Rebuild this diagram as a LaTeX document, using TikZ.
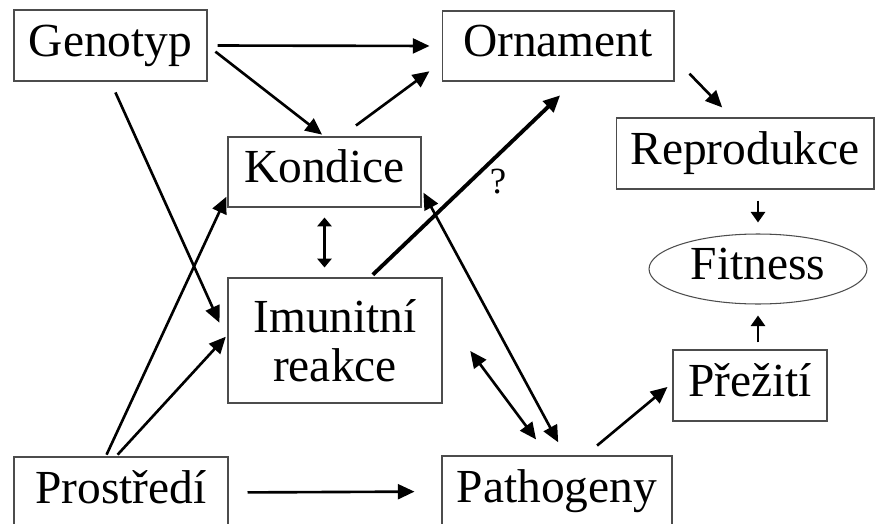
\documentclass[tikz,border=0pt]{standalone}
\usepackage{fontspec}
\setmainfont{Liberation Serif}
\usetikzlibrary{arrows.meta,shapes.geometric}
\begin{document}
\begin{tikzpicture}[x=0.02cm, y=-0.02cm,
  >={Triangle[length=9.5pt,width=8.5pt]},
  box/.style={draw=black!70, line width=0.6pt, inner sep=0pt, font=\fontsize{27}{30}\selectfont, text height=19pt, text depth=7pt},
  arr/.style={->, line width=1.5pt},
  darr/.style={<->, line width=1.5pt},
  sarr/.style={-{Triangle[length=6pt,width=8pt]}, line width=1.5pt}]
\useasboundingbox (0,0) rectangle (876,524);

\node[box, minimum width=3.86cm, minimum height=1.42cm] (geno) at (110.5,45.5) {Genotyp};
\node[box, minimum width=4.64cm, minimum height=1.40cm] (orna) at (558,46) {Ornament};
\node[box, minimum width=3.86cm, minimum height=1.40cm] (kond) at (324.5,172) {Kondice};
\node[box, minimum width=5.16cm, minimum height=1.42cm] (repro) at (745,153.5) {Reprodukce};
\node[box, ellipse, minimum width=4.36cm, minimum height=1.40cm] (fit) at (758,269) {Fitness};
\node[box, align=center, text height=, text depth=, minimum width=4.28cm, minimum height=2.5cm] (imun) at (335,340.5) {Imunitní\\[-2pt]reakce};
\node[box, minimum width=4.28cm, minimum height=1.42cm] (pros) at (121,492.5) {Prostředí};
\node[box, minimum width=4.60cm, minimum height=1.42cm] (path) at (557,491.5) {Pathogeny};
\node[box, minimum width=3.08cm, minimum height=1.42cm] (prez) at (750,385.5) {Přežití};

\draw[arr, shorten <=0.2cm, shorten >=0.24cm] (geno.east) -- (orna.west);
\draw[arr, shorten <=0.2cm, shorten >=0.06cm] (geno.east) -- (kond.north);
\draw[arr, shorten <=0.24cm, shorten >=0.39cm] (geno.south) -- (imun.west);
\draw[arr, shorten <=0.37cm, shorten >=0.3cm] (kond.65) -- (orna.188);

\draw[arr, shorten <=0.04cm, shorten >=0.05cm] (pros.113) -- (kond.193);
\draw[arr, shorten <=0.05cm, shorten >=0.05cm] (pros.98) -- (imun.177);
\draw[arr, shorten <=0.38cm, shorten >=0.54cm] (pros.east) -- (path.west);

\draw[{Triangle[length=5pt,width=8pt]}-{Triangle[length=5pt,width=8pt]}, line width=1.5pt, shorten <=0.2cm, shorten >=0.2cm] (kond.south) -- (kond.south |- imun.north);
\draw[->, line width=2.2pt, shorten <=0.08cm, shorten >=0.4cm] (imun.61) -- (orna.-65);
\node[font=\fontsize{21}{24}\selectfont, inner sep=0pt] (q) at (498,182) {?};
\draw[darr, shorten <=0.08cm, shorten >=0.3cm] (kond.-10) -- (path.77);
\draw[darr, shorten <=0.93cm, shorten >=0.4cm] (imun.14) -- (path.104);

\draw[arr, shorten <=0.31cm, shorten >=0.13cm] (path.52) -- (prez.178);
\draw[arr, shorten <=0.43cm, shorten >=0.28cm] (orna.-6) -- (repro.110);
\draw[sarr, shorten <=0.22cm, shorten >=0.22cm] (fit.north |- repro.south) -- (fit.north);
\draw[sarr, shorten <=0.14cm, shorten >=0.22cm] (fit.south |- prez.north) -- (fit.south);

\end{tikzpicture}
\end{document}
